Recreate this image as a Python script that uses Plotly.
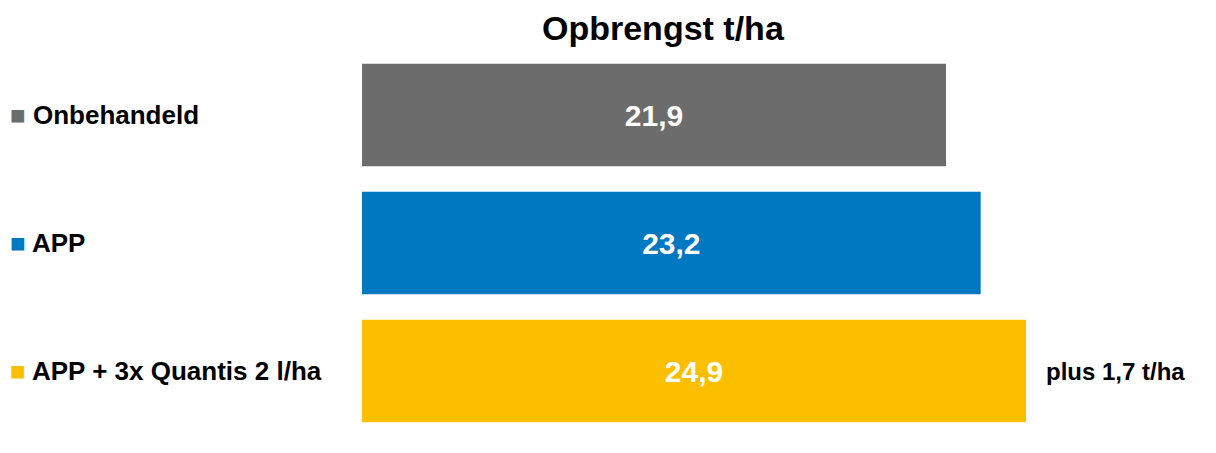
import plotly.graph_objects as go

categories = ["Onbehandeld", "APP", "APP + 3x Quantis 2 l/ha"]
values = [21.9, 23.2, 24.9]
labels = ["21,9", "23,2", "24,9"]
colors = ["#6c6c6c", "#0077c1", "#fcbf00"]
note = "plus 1,7 t/ha"

fig = go.Figure(go.Bar(
    x=values, y=categories, orientation="h", width=0.8,
    marker=dict(color=colors, line=dict(width=0)),
    text=labels, textposition="inside", insidetextanchor="middle",
    textfont=dict(family="Liberation Sans", size=30, color="white", weight="bold"),
    cliponaxis=False,
))
ann = []
for c, col in zip(categories, colors):
    ann.append(dict(xref="paper", x=-0.443, y=c, xanchor="left", showarrow=False,
                    text=f"<span style='color:{col}'>■</span> {c}",
                    font=dict(family="Liberation Sans", size=26, color="black", weight="bold")))
ann.append(dict(x=values[2], y=categories[2], xanchor="left", xshift=18, showarrow=False, text=note,
                font=dict(family="Liberation Sans", size=24, color="black", weight="bold")))
ann.append(dict(xref="paper", yref="paper", x=0.377, y=1.0, yanchor="bottom", yshift=2,
                showarrow=False, text="Opbrengst t/ha",
                font=dict(family="Liberation Sans", size=34, color="black", weight="bold")))
fig.update_layout(
    width=1216, height=453, margin=dict(l=354, r=62, t=43, b=26),
    paper_bgcolor="white", plot_bgcolor="white", showlegend=False,
    uniformtext=dict(mode=False),
    xaxis=dict(range=[0, 30], visible=False),
    yaxis=dict(autorange="reversed", visible=False),
    annotations=ann,
)
fig.write_html("out.html")
